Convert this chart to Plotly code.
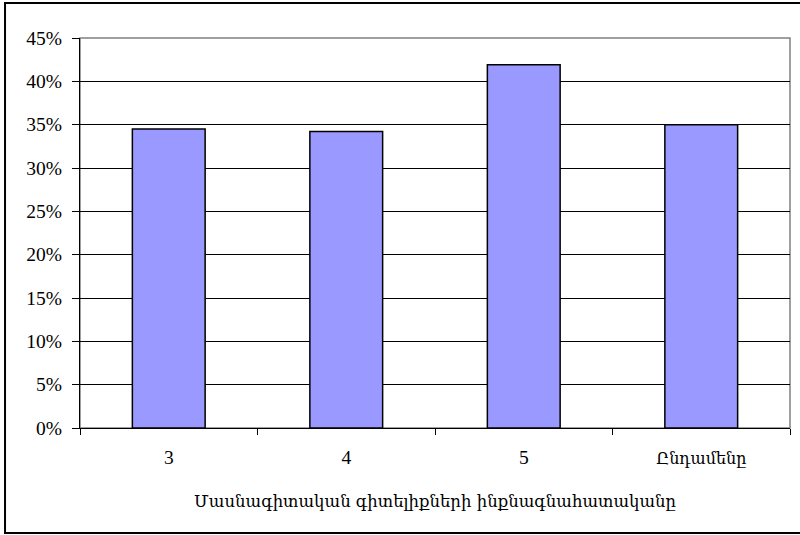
import plotly.graph_objects as go

# Self-assessment of professional knowledge, share by score group
categories = ["3", "4", "5", "Ընդամենը"]
shares = [34.5, 34.2, 41.9, 35.0]
y_ticks = [0, 5, 10, 15, 20, 25, 30, 35, 40, 45]
y_tick_labels = [f"{v}%" for v in y_ticks]
x_title = "Մասնագիտական գիտելիքների ինքնագնահատականը"

LATIN_FONT = "Liberation Serif"


def label(text, size):
    """Wrap Armenian text in a span so it uses a serif face with Armenian glyphs."""
    if any("\u0530" <= ch <= "\u058f" for ch in text):
        return f'<span style="font-family:DejaVu Serif;font-size:{size}px">{text}</span>'
    return text


fig = go.Figure(
    go.Bar(
        x=categories,
        y=shares,
        marker=dict(color="#9999FF", line=dict(color="#000000", width=1.5)),
        hoverinfo="x+y",
    )
)

fig.update_layout(
    width=800,
    height=535,
    margin=dict(l=80, r=10, t=38, b=107),
    paper_bgcolor="white",
    plot_bgcolor="white",
    bargap=0.59,
    showlegend=False,
    font=dict(family=LATIN_FONT, size=19.5, color="#000000"),
    shapes=[
        # gray frame of the plotting area
        dict(type="rect", xref="paper", yref="paper", x0=0, x1=1, y0=0, y1=1,
             line=dict(color="#808080", width=1.5), layer="below"),
        # outer chart border
        dict(type="rect", xref="paper", yref="paper",
             x0=-0.1056, x1=1.2, y0=-0.269, y1=1.0897,
             line=dict(color="#000000", width=2)),
    ],
)

fig.update_xaxes(
    type="category",
    tickvals=categories,
    ticktext=[label(c, 16) for c in categories],
    showgrid=False,
    showline=True,
    linecolor="#000000",
    linewidth=1,
    ticks="outside",
    tickson="boundaries",
    ticklen=6,
    tickcolor="#000000",
    ticklabelstandoff=12,
    tickfont=dict(family=LATIN_FONT, size=19.5),
    title=dict(text=label(x_title, 16.5), font=dict(family=LATIN_FONT, size=19.5), standoff=25),
)

fig.update_yaxes(
    range=[0, 45],
    tickvals=y_ticks,
    ticktext=y_tick_labels,
    showgrid=True,
    gridcolor="#000000",
    gridwidth=1,
    showline=True,
    linecolor="#000000",
    linewidth=1,
    ticks="outside",
    ticklen=7,
    tickcolor="#000000",
    ticklabelstandoff=6,
    tickfont=dict(family=LATIN_FONT, size=19.5),
    zeroline=False,
)

fig.write_html("out.html")
